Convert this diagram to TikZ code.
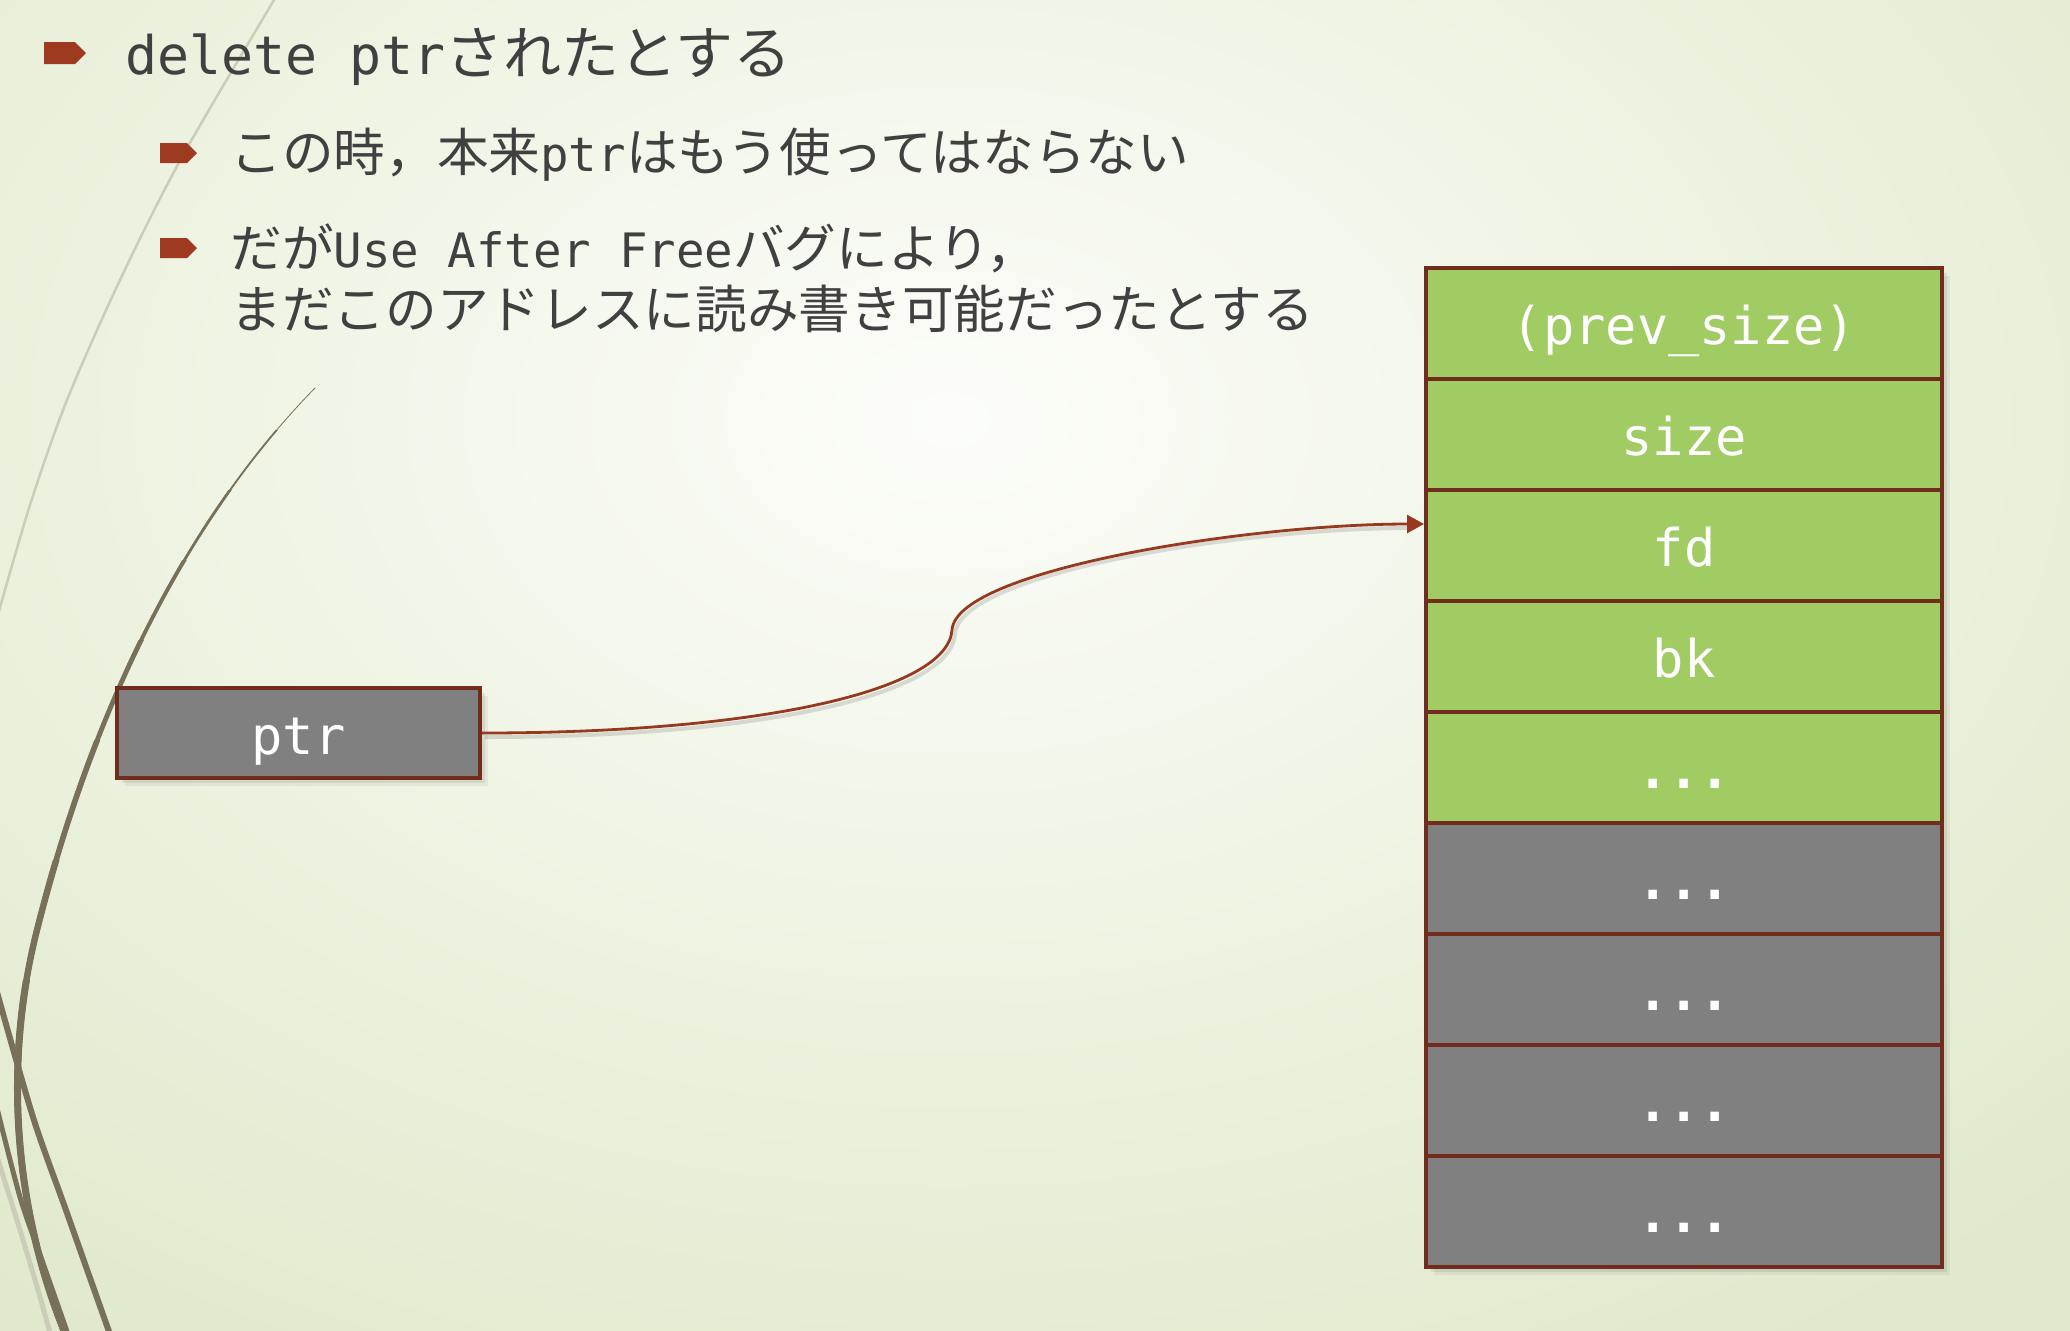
\documentclass[tikz,border=0pt]{standalone}
\usepackage{fontspec}
\setmainfont{DejaVu Sans Mono}
\newfontfamily\jp[Scale=1.09]{Noto Sans CJK JP}
\usetikzlibrary{arrows.meta,calc}
\definecolor{bgin}{HTML}{FCFDF9}
\definecolor{bgout}{HTML}{E0E9CB}
\definecolor{deco}{HTML}{787159}
\definecolor{decolight}{HTML}{CBCDB8}
\definecolor{rust}{HTML}{9E3A1F}
\definecolor{cellborder}{HTML}{702C1C}
\definecolor{arrowcol}{HTML}{96391F}
\definecolor{cellgreen}{HTML}{A0CC63}
\definecolor{cellgray}{HTML}{808080}
\definecolor{txt}{HTML}{404040}
\newcommand{\celldots}{{\bfseries ...}}
\begin{document}
\begin{tikzpicture}[x=0.5pt,y=-0.5pt,
  cell/.style={draw=cellborder, line width=2pt, minimum width=258pt, minimum height=55.5pt,
    inner sep=0pt, text=white, font=\fontsize{26}{30}\selectfont, text height=21pt, text depth=0pt},
  greencell/.style={cell, fill=cellgreen},
  graycell/.style={cell, fill=cellgray},
  ptrcell/.style={cell, fill=cellgray, minimum width=181.5pt, minimum height=45pt},
  lvlone/.style={anchor=base west, inner sep=0pt, text=txt, font=\fontsize{26.6}{32}\selectfont},
  lvltwo/.style={anchor=base west, inner sep=0pt, text=txt, font=\fontsize{23.7}{28}\selectfont},
  bulletmark/.style={fill=rust},
  link/.style={draw=arrowcol, line width=1.4pt, -{Triangle[length=8.5pt,width=9pt]}},
  softshadow/.style={fill=black, opacity=#1},
]
\useasboundingbox (0,0) rectangle (2070,1330);
\begin{scope}
\clip (0,0) rectangle (2070,1330);
% background
\shade[inner color=bgin, outer color=bgout] (-650,-680) rectangle (2550,1520);
% decorative wisps
\draw[decolight, line width=1.25pt] plot[smooth] coordinates {(277,-5) (182,157) (120,280) (67,400) (30,505) (-5,625)};
\draw[decolight, line width=2.5pt] plot[smooth] coordinates {(-5,1150) (20,1230) (40,1297) (52,1340)};
\foreach \ys/\w in {380/0.4, 430/0.9, 490/1.4, 560/1.9, 640/2.4, 740/2.8, 860/3.2, 980/3.5}{
  \begin{scope}
    \clip (-10,\ys) rectangle (400,1340);
    \draw[deco, line width=\w pt, line cap=round] (315,388) .. controls (215,490) and (105,660) .. (37,930) .. controls (-1,1080) and (20,1230) .. (70,1345);
  \end{scope}
}
\draw[deco, line width=3pt] plot[smooth] coordinates {(-5,985) (33,1117) (67,1213) (112,1340)};
\draw[deco, line width=2.5pt] plot[smooth] coordinates {(-5,1100) (20,1197) (43,1263) (70,1340)};
\end{scope}
% bullets
\foreach \bx/\by/\bw/\bh in {44/53/42/11, 160/153/37/10, 160/248/37/10}{
  \fill[bulletmark] (\bx,\by-\bh) -- (\bx+\bw-\bh,\by-\bh) -- (\bx+\bw,\by) -- (\bx+\bw-\bh,\by+\bh) -- (\bx,\by+\bh) -- cycle;
}
% texts
\node[lvlone] (t1) at (125,74) {delete ptr{\jp されたとする}};
\node[lvltwo] (t2) at (230,171) {{\jp この時，本来}ptr{\jp はもう使ってはならない}};
\node[lvltwo] (t3) at (230,267) {{\jp だが}Use After Free{\jp バグにより，}};
\node[lvltwo] (t4) at (230,328) {\jp まだこのアドレスに読み書き可能だったとする};
% shadows
\foreach \o/\a in {2/0.10,5/0.07,8/0.05}{
  \fill[softshadow=\a] (1426+\o,268+\o) rectangle (1942+\o,1267+\o);
  \fill[softshadow=\a] (117+\o,688+\o) rectangle (480+\o,778+\o);
}
% stack cells
\node[greencell] (r1) at (1684,323.5) {(prev\_size)};
\node[greencell] (r2) at (1684,434.5) {size};
\node[greencell] (r3) at (1684,545.5) {fd};
\node[greencell] (r4) at (1684,656.5) {bk};
\node[greencell] (r5) at (1684,767.5) {\celldots};
\node[graycell] (r6) at (1684,878.5) {\celldots};
\node[graycell] (r7) at (1684,989.5) {\celldots};
\node[graycell] (r8) at (1684,1100.5) {\celldots};
\node[graycell] (r9) at (1684,1211.5) {\celldots};
% pointer
\node[ptrcell] (ptrbox) at (298.5,733) {ptr};
\coordinate (bend) at (952,630);
\coordinate (tip) at ($(r3.west)+(0,-21.5)$);
\begin{scope}[transform canvas={shift={(1.5pt,-2pt)}}]
\draw[black, opacity=0.12, line width=2pt] (ptrbox.east) .. controls +(280,0) and +(-4,60) .. (bend) .. controls +(4,-60) and +(-176,0) .. ($(tip)+(-16,0)$);
\end{scope}
\draw[link] (ptrbox.east) .. controls +(280,0) and +(-4,60) .. (bend) .. controls +(4,-60) and +(-176,0) .. (tip);
\end{tikzpicture}
\end{document}
